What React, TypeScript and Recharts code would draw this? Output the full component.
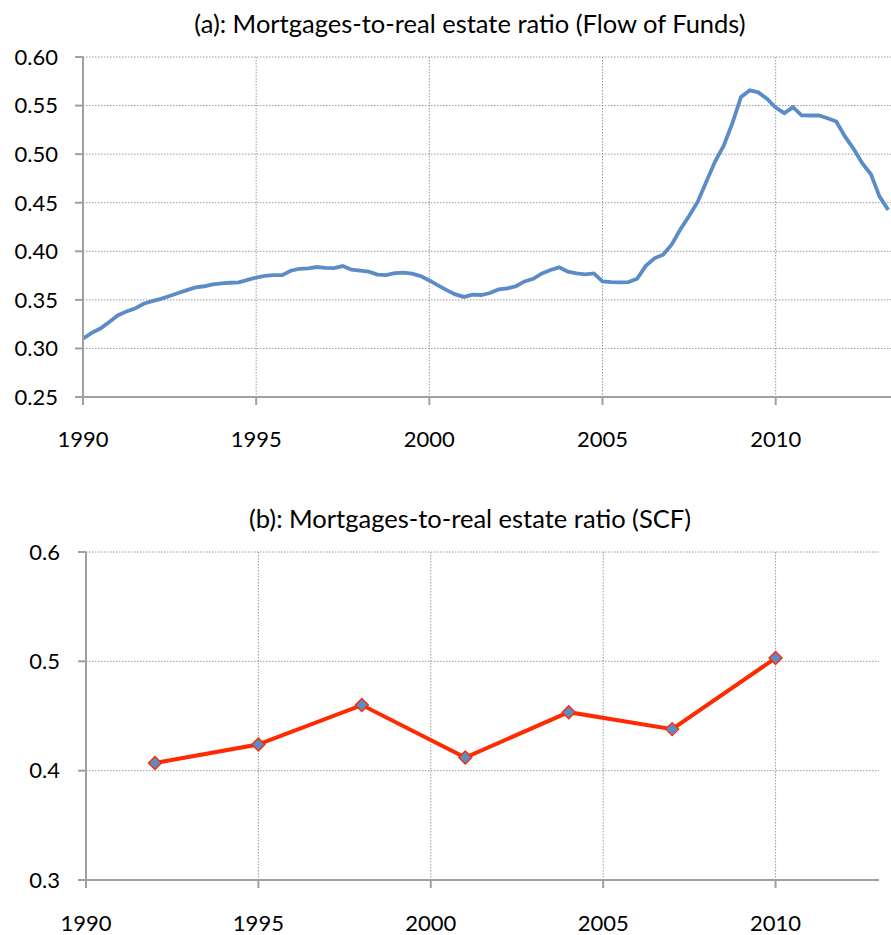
import React from 'react';
import { LineChart, Line, XAxis, YAxis, CartesianGrid } from 'recharts';

// Flow of Funds, quarterly from 1990Q1
const fofStart = 1990;
const fofRatio = [
  0.310, 0.316, 0.3205, 0.327,
  0.334, 0.338, 0.341, 0.346,
  0.3487, 0.351, 0.354, 0.357,
  0.360, 0.3628, 0.364, 0.366,
  0.367, 0.3676, 0.368, 0.3706,
  0.373, 0.3748, 0.3755, 0.3755,
  0.380, 0.382, 0.3824, 0.3838,
  0.383, 0.3827, 0.3848, 0.381,
  0.380, 0.379, 0.376, 0.3755,
  0.3776, 0.378, 0.3769, 0.3745,
  0.370, 0.365, 0.360, 0.3556,
  0.353, 0.3553, 0.355, 0.357,
  0.3607, 0.3618, 0.364, 0.369,
  0.3717, 0.3772, 0.3807, 0.3834,
  0.379, 0.3772, 0.3762, 0.3772,
  0.369, 0.3683, 0.368, 0.3683,
  0.3717, 0.385, 0.3927, 0.3965,
  0.407, 0.4226, 0.4364, 0.451,
  0.4718, 0.4924, 0.5086, 0.532,
  0.5588, 0.5656, 0.5636, 0.557,
  0.548, 0.5422, 0.5484, 0.540,
  0.5398, 0.5398, 0.537, 0.5336,
  0.5182, 0.5055, 0.4907, 0.4793,
  0.4563, 0.4426,
];

// Survey of Consumer Finances
const scfYears = [1992, 1995, 1998, 2001, 2004, 2007, 2010];
const scfRatio = [0.407, 0.424, 0.46, 0.412, 0.4535, 0.438, 0.503];

const yearTicks = [1990, 1995, 2000, 2005, 2010];
const fofTicks = [0.25, 0.3, 0.35, 0.4, 0.45, 0.5, 0.55, 0.6];
const scfTicks = [0.3, 0.4, 0.5, 0.6];

const fofData = fofRatio.map((v, i) => ({ year: fofStart + i / 4, ratio: v }));
const scfData = scfYears.map((y, i) => ({ year: y, ratio: scfRatio[i] }));

const FONT = 'Lato, "Open Sans", sans-serif';
const axisGray = '#a0a0a0';
const tickStyle = { fontFamily: FONT, fontSize: 22, fill: '#000' };

const Diamond = (props: any) => {
  const { cx, cy } = props;
  if (cx == null || cy == null) return null;
  const r = 6.5;
  return (
    <path
      d={`M${cx},${cy - r}L${cx + r},${cy}L${cx},${cy + r}L${cx - r},${cy}Z`}
      fill="#5b8cc8"
      stroke="#ff2a00"
      strokeWidth={1.4}
    />
  );
};

const titleStyle = (top: number): React.CSSProperties => ({
  position: 'absolute',
  top,
  left: 470,
  transform: 'translateX(-50%)',
  whiteSpace: 'nowrap',
  fontFamily: FONT,
  fontSize: 25.5,
  lineHeight: '30px',
  color: '#000',
});

export default function App() {
  return (
    <div style={{ position: 'absolute', left: 0, top: 0, width: 891, height: 935, overflow: 'hidden', background: '#fff' }}>
      <div style={titleStyle(8)}>(a): Mortgages-to-real estate ratio (Flow of Funds)</div>
      <div style={{ position: 'absolute', left: 0, top: 0 }}>
        <LineChart width={891} height={460} data={fofData} margin={{ top: 57, right: 0, bottom: 0, left: 0 }}>
          <CartesianGrid stroke="#999" strokeDasharray="1.5 1.5" verticalValues={yearTicks} horizontalValues={fofTicks} />
          <XAxis
            dataKey="year"
            type="number"
            domain={[1990, 2013.33]}
            ticks={yearTicks}
            allowDataOverflow
            height={63}
            tickSize={8}
            tickMargin={26}
            stroke={axisGray}
            strokeWidth={2}
            tick={tickStyle}
          />
          <YAxis
            type="number"
            domain={[0.25, 0.6]}
            ticks={fofTicks}
            width={83}
            tickSize={8}
            tickMargin={17}
            stroke={axisGray}
            strokeWidth={2}
            tick={tickStyle}
            tickFormatter={(v: number) => v.toFixed(2)}
          />
          <Line type="linear" dataKey="ratio" stroke="#5b8cc8" strokeWidth={3.8} dot={false} isAnimationActive={false} />
        </LineChart>
      </div>

      <div style={titleStyle(503)}>(b): Mortgages-to-real estate ratio (SCF)</div>
      <div style={{ position: 'absolute', left: 0, top: 480 }}>
        <LineChart width={891} height={455} data={scfData} margin={{ top: 72, right: 12, bottom: 0, left: 0 }}>
          <CartesianGrid stroke="#999" strokeDasharray="1.5 1.5" verticalValues={yearTicks} horizontalValues={scfTicks} />
          <XAxis
            dataKey="year"
            type="number"
            domain={[1990, 2013]}
            ticks={yearTicks}
            height={55}
            tickSize={8}
            tickMargin={27}
            stroke={axisGray}
            strokeWidth={2}
            tick={tickStyle}
          />
          <YAxis
            type="number"
            domain={[0.3, 0.6]}
            ticks={scfTicks}
            width={86}
            tickSize={8}
            tickMargin={18}
            stroke={axisGray}
            strokeWidth={2}
            tick={tickStyle}
            tickFormatter={(v: number) => v.toFixed(1)}
          />
          <Line type="linear" dataKey="ratio" stroke="#ff2a00" strokeWidth={4} dot={<Diamond />} isAnimationActive={false} />
        </LineChart>
      </div>
    </div>
  );
}
